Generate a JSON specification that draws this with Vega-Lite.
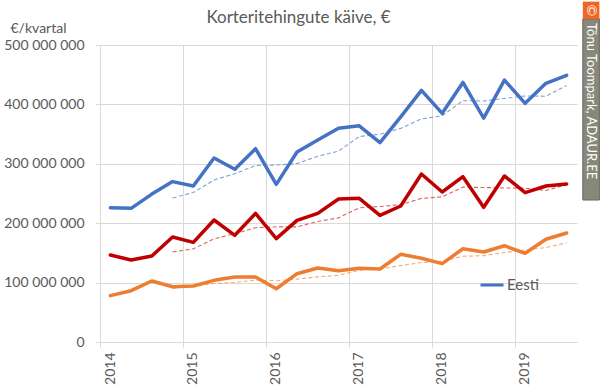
{
  "$schema": "https://vega.github.io/schema/vega-lite/v6.json",
  "width": 477,
  "height": 297,
  "autosize": {"type": "none"},
  "padding": {"left": 100, "top": 45, "right": 23, "bottom": 50},
  "background": "white",
  "title": {"text": "Korteritehingute käive, €", "anchor": "middle", "dx": -40, "offset": -25, "font": "Lato", "fontSize": 17, "fontWeight": "normal", "color": "#595959"},
  "config": {
    "locale": {"number": {"decimal": ",", "thousands": " ", "grouping": [3], "currency": ["", " €"]}},
    "view": {"stroke": null},
    "font": "Lato"
  },
  "data": {"values": [
    {"t": 2014.125, "line": "Eesti", "value": 226000000},
    {"t": 2014.375, "line": "Eesti", "value": 225000000},
    {"t": 2014.625, "line": "Eesti", "value": 249000000},
    {"t": 2014.875, "line": "Eesti", "value": 270000000},
    {"t": 2015.125, "line": "Eesti", "value": 262600000},
    {"t": 2015.375, "line": "Eesti", "value": 309800000},
    {"t": 2015.625, "line": "Eesti", "value": 290700000},
    {"t": 2015.875, "line": "Eesti", "value": 325500000},
    {"t": 2016.125, "line": "Eesti", "value": 265400000},
    {"t": 2016.375, "line": "Eesti", "value": 319900000},
    {"t": 2016.625, "line": "Eesti", "value": 340000000},
    {"t": 2016.875, "line": "Eesti", "value": 359700000},
    {"t": 2017.125, "line": "Eesti", "value": 364000000},
    {"t": 2017.375, "line": "Eesti", "value": 335600000},
    {"t": 2017.625, "line": "Eesti", "value": 379000000},
    {"t": 2017.875, "line": "Eesti", "value": 423700000},
    {"t": 2018.125, "line": "Eesti", "value": 385000000},
    {"t": 2018.375, "line": "Eesti", "value": 437000000},
    {"t": 2018.625, "line": "Eesti", "value": 377000000},
    {"t": 2018.875, "line": "Eesti", "value": 441000000},
    {"t": 2019.125, "line": "Eesti", "value": 401800000},
    {"t": 2019.375, "line": "Eesti", "value": 435500000},
    {"t": 2019.625, "line": "Eesti", "value": 449000000},
    {"t": 2014.125, "line": "Tallinn", "value": 146500000},
    {"t": 2014.375, "line": "Tallinn", "value": 138000000},
    {"t": 2014.625, "line": "Tallinn", "value": 144800000},
    {"t": 2014.875, "line": "Tallinn", "value": 176800000},
    {"t": 2015.125, "line": "Tallinn", "value": 167800000},
    {"t": 2015.375, "line": "Tallinn", "value": 205400000},
    {"t": 2015.625, "line": "Tallinn", "value": 179600000},
    {"t": 2015.875, "line": "Tallinn", "value": 216600000},
    {"t": 2016.125, "line": "Tallinn", "value": 174000000},
    {"t": 2016.375, "line": "Tallinn", "value": 204800000},
    {"t": 2016.625, "line": "Tallinn", "value": 216600000},
    {"t": 2016.875, "line": "Tallinn", "value": 240700000},
    {"t": 2017.125, "line": "Tallinn", "value": 241900000},
    {"t": 2017.375, "line": "Tallinn", "value": 213300000},
    {"t": 2017.625, "line": "Tallinn", "value": 229000000},
    {"t": 2017.875, "line": "Tallinn", "value": 282800000},
    {"t": 2018.125, "line": "Tallinn", "value": 252500000},
    {"t": 2018.375, "line": "Tallinn", "value": 278300000},
    {"t": 2018.625, "line": "Tallinn", "value": 226800000},
    {"t": 2018.875, "line": "Tallinn", "value": 279500000},
    {"t": 2019.125, "line": "Tallinn", "value": 251400000},
    {"t": 2019.375, "line": "Tallinn", "value": 262600000},
    {"t": 2019.625, "line": "Tallinn", "value": 266000000},
    {"t": 2014.125, "line": "Muu Eesti", "value": 78000000},
    {"t": 2014.375, "line": "Muu Eesti", "value": 86400000},
    {"t": 2014.625, "line": "Muu Eesti", "value": 102700000},
    {"t": 2014.875, "line": "Muu Eesti", "value": 93100000},
    {"t": 2015.125, "line": "Muu Eesti", "value": 94300000},
    {"t": 2015.375, "line": "Muu Eesti", "value": 103800000},
    {"t": 2015.625, "line": "Muu Eesti", "value": 109400000},
    {"t": 2015.875, "line": "Muu Eesti", "value": 109400000},
    {"t": 2016.125, "line": "Muu Eesti", "value": 89700000},
    {"t": 2016.375, "line": "Muu Eesti", "value": 115000000},
    {"t": 2016.625, "line": "Muu Eesti", "value": 124600000},
    {"t": 2016.875, "line": "Muu Eesti", "value": 120000000},
    {"t": 2017.125, "line": "Muu Eesti", "value": 124000000},
    {"t": 2017.375, "line": "Muu Eesti", "value": 122900000},
    {"t": 2017.625, "line": "Muu Eesti", "value": 147600000},
    {"t": 2017.875, "line": "Muu Eesti", "value": 140900000},
    {"t": 2018.125, "line": "Muu Eesti", "value": 131900000},
    {"t": 2018.375, "line": "Muu Eesti", "value": 157000000},
    {"t": 2018.625, "line": "Muu Eesti", "value": 151500000},
    {"t": 2018.875, "line": "Muu Eesti", "value": 162100000},
    {"t": 2019.125, "line": "Muu Eesti", "value": 149300000},
    {"t": 2019.375, "line": "Muu Eesti", "value": 172900000},
    {"t": 2019.625, "line": "Muu Eesti", "value": 183500000},
    {"t": 2014.875, "line": "Eesti, 4 kv keskmine", "value": 242500000},
    {"t": 2015.125, "line": "Eesti, 4 kv keskmine", "value": 251650000},
    {"t": 2015.375, "line": "Eesti, 4 kv keskmine", "value": 272850000},
    {"t": 2015.625, "line": "Eesti, 4 kv keskmine", "value": 283300000},
    {"t": 2015.875, "line": "Eesti, 4 kv keskmine", "value": 297150000},
    {"t": 2016.125, "line": "Eesti, 4 kv keskmine", "value": 297850000},
    {"t": 2016.375, "line": "Eesti, 4 kv keskmine", "value": 300400000},
    {"t": 2016.625, "line": "Eesti, 4 kv keskmine", "value": 312700000},
    {"t": 2016.875, "line": "Eesti, 4 kv keskmine", "value": 321250000},
    {"t": 2017.125, "line": "Eesti, 4 kv keskmine", "value": 345900000},
    {"t": 2017.375, "line": "Eesti, 4 kv keskmine", "value": 349800000},
    {"t": 2017.625, "line": "Eesti, 4 kv keskmine", "value": 359600000},
    {"t": 2017.875, "line": "Eesti, 4 kv keskmine", "value": 375600000},
    {"t": 2018.125, "line": "Eesti, 4 kv keskmine", "value": 380800000},
    {"t": 2018.375, "line": "Eesti, 4 kv keskmine", "value": 406200000},
    {"t": 2018.625, "line": "Eesti, 4 kv keskmine", "value": 405700000},
    {"t": 2018.875, "line": "Eesti, 4 kv keskmine", "value": 410000000},
    {"t": 2019.125, "line": "Eesti, 4 kv keskmine", "value": 414200000},
    {"t": 2019.375, "line": "Eesti, 4 kv keskmine", "value": 413800000},
    {"t": 2019.625, "line": "Eesti, 4 kv keskmine", "value": 431800000},
    {"t": 2014.875, "line": "Tallinn, 4 kv keskmine", "value": 151500000},
    {"t": 2015.125, "line": "Tallinn, 4 kv keskmine", "value": 156900000},
    {"t": 2015.375, "line": "Tallinn, 4 kv keskmine", "value": 173700000},
    {"t": 2015.625, "line": "Tallinn, 4 kv keskmine", "value": 182400000},
    {"t": 2015.875, "line": "Tallinn, 4 kv keskmine", "value": 192400000},
    {"t": 2016.125, "line": "Tallinn, 4 kv keskmine", "value": 193900000},
    {"t": 2016.375, "line": "Tallinn, 4 kv keskmine", "value": 193750000},
    {"t": 2016.625, "line": "Tallinn, 4 kv keskmine", "value": 203000000},
    {"t": 2016.875, "line": "Tallinn, 4 kv keskmine", "value": 209000000},
    {"t": 2017.125, "line": "Tallinn, 4 kv keskmine", "value": 226000000},
    {"t": 2017.375, "line": "Tallinn, 4 kv keskmine", "value": 228100000},
    {"t": 2017.625, "line": "Tallinn, 4 kv keskmine", "value": 231200000},
    {"t": 2017.875, "line": "Tallinn, 4 kv keskmine", "value": 241750000},
    {"t": 2018.125, "line": "Tallinn, 4 kv keskmine", "value": 244400000},
    {"t": 2018.375, "line": "Tallinn, 4 kv keskmine", "value": 260650000},
    {"t": 2018.625, "line": "Tallinn, 4 kv keskmine", "value": 260100000},
    {"t": 2018.875, "line": "Tallinn, 4 kv keskmine", "value": 259300000},
    {"t": 2019.125, "line": "Tallinn, 4 kv keskmine", "value": 259000000},
    {"t": 2019.375, "line": "Tallinn, 4 kv keskmine", "value": 255100000},
    {"t": 2019.625, "line": "Tallinn, 4 kv keskmine", "value": 264900000},
    {"t": 2014.875, "line": "Muu Eesti, 4 kv keskmine", "value": 90050000},
    {"t": 2015.125, "line": "Muu Eesti, 4 kv keskmine", "value": 94100000},
    {"t": 2015.375, "line": "Muu Eesti, 4 kv keskmine", "value": 98500000},
    {"t": 2015.625, "line": "Muu Eesti, 4 kv keskmine", "value": 100150000},
    {"t": 2015.875, "line": "Muu Eesti, 4 kv keskmine", "value": 104200000},
    {"t": 2016.125, "line": "Muu Eesti, 4 kv keskmine", "value": 103100000},
    {"t": 2016.375, "line": "Muu Eesti, 4 kv keskmine", "value": 105900000},
    {"t": 2016.625, "line": "Muu Eesti, 4 kv keskmine", "value": 109700000},
    {"t": 2016.875, "line": "Muu Eesti, 4 kv keskmine", "value": 112300000},
    {"t": 2017.125, "line": "Muu Eesti, 4 kv keskmine", "value": 120900000},
    {"t": 2017.375, "line": "Muu Eesti, 4 kv keskmine", "value": 122900000},
    {"t": 2017.625, "line": "Muu Eesti, 4 kv keskmine", "value": 128600000},
    {"t": 2017.875, "line": "Muu Eesti, 4 kv keskmine", "value": 133850000},
    {"t": 2018.125, "line": "Muu Eesti, 4 kv keskmine", "value": 135800000},
    {"t": 2018.375, "line": "Muu Eesti, 4 kv keskmine", "value": 144350000},
    {"t": 2018.625, "line": "Muu Eesti, 4 kv keskmine", "value": 145300000},
    {"t": 2018.875, "line": "Muu Eesti, 4 kv keskmine", "value": 150600000},
    {"t": 2019.125, "line": "Muu Eesti, 4 kv keskmine", "value": 155000000},
    {"t": 2019.375, "line": "Muu Eesti, 4 kv keskmine", "value": 158950000},
    {"t": 2019.625, "line": "Muu Eesti, 4 kv keskmine", "value": 166950000}
  ]},
  "layer": [
    {
      "transform": [{"filter": {"field": "line", "oneOf": ["Eesti, 4 kv keskmine", "Tallinn, 4 kv keskmine", "Muu Eesti, 4 kv keskmine"]}}],
      "mark": {"type": "line", "strokeWidth": 1.1, "strokeDash": [4, 2.5], "clip": false},
      "encoding": {
        "x": {
          "field": "t", "type": "quantitative",
          "scale": {"domain": [2014, 2019.75], "nice": false, "zero": false},
          "axis": {
            "title": null, "values": [2014, 2015, 2016, 2017, 2018, 2019], "format": "d",
            "grid": true, "gridColor": "#d9d9d9", "gridWidth": 1,
            "domain": true, "domainColor": "#d9d9d9", "domainWidth": 1,
            "ticks": true, "tickColor": "#d9d9d9", "tickSize": 5,
            "labelAngle": -90, "labelOffset": 10, "labelPadding": 5,
            "labelFont": "Lato", "labelFontSize": 14, "labelColor": "#595959"
          }
        },
        "y": {
          "field": "value", "type": "quantitative",
          "scale": {"domain": [0, 500000000], "nice": false},
          "axis": {
            "title": "€/kvartal", "titleAngle": 0, "titleAlign": "left", "titleBaseline": "middle",
            "titleX": -90, "titleY": -17, "titleFont": "Lato", "titleFontSize": 14, "titleFontWeight": "normal", "titleColor": "#595959",
            "values": [0, 50000000, 100000000, 150000000, 200000000, 250000000, 300000000, 350000000, 400000000, 450000000, 500000000],
            "format": ",d",
            "grid": true, "gridColor": "#d9d9d9", "gridWidth": 1,
            "domain": false, "ticks": true, "tickColor": "#d9d9d9", "tickSize": 5,
            "labelPadding": 11, "labelFont": "Lato", "labelFontSize": 14, "labelColor": "#595959"
          }
        },
        "color": {
          "field": "line", "type": "nominal",
          "scale": {
            "domain": ["Eesti", "Tallinn", "Muu Eesti", "Eesti, 4 kv keskmine", "Tallinn, 4 kv keskmine", "Muu Eesti, 4 kv keskmine"],
            "range": ["#4472C4", "#C00000", "#ED7D31", "#7F9FD8", "#E06060", "#F4AA78"]
          },
          "legend": {
            "values": ["Eesti"], "title": null, "orient": "none", "legendX": 379, "legendY": 227,
            "symbolType": "stroke", "symbolSize": 529, "symbolStrokeWidth": 3,
            "labelFont": "Lato", "labelFontSize": 15, "labelColor": "#595959", "labelOffset": 2, "padding": 0
          }
        }
      }
    },
    {
      "transform": [{"filter": {"field": "line", "oneOf": ["Eesti", "Tallinn", "Muu Eesti"]}}],
      "mark": {"type": "line", "strokeJoin": "round", "strokeCap": "round", "clip": false},
      "encoding": {
        "x": {"field": "t", "type": "quantitative"},
        "y": {"field": "value", "type": "quantitative"},
        "color": {"field": "line", "type": "nominal"},
        "strokeWidth": {
          "field": "line", "type": "nominal",
          "scale": {"domain": ["Eesti", "Tallinn", "Muu Eesti"], "range": [3.5, 3.5, 2]},
          "legend": null
        }
      }
    },
    {
      "data": {"values": [{"label": "Tõnu Toompark, ADAUR.EE", "mark": "©"}]},
      "mark": {"type": "rect", "fill": "#87877A", "stroke": "#6a6a5e", "strokeWidth": 1, "clip": false},
      "encoding": {
        "x": {"datum": 2019.82, "type": "quantitative"},
        "x2": {"datum": 2020.02},
        "y": {"datum": 239000000, "type": "quantitative"},
        "y2": {"datum": 544000000}
      }
    },
    {
      "data": {"values": [{"label": "Tõnu Toompark, ADAUR.EE", "mark": "©"}]},
      "mark": {"type": "rect", "fill": "#F26522", "clip": false},
      "encoding": {
        "x": {"datum": 2019.82, "type": "quantitative"},
        "x2": {"datum": 2020.02},
        "y": {"datum": 544000000, "type": "quantitative"},
        "y2": {"datum": 573000000}
      }
    },
    {
      "data": {"values": [{"label": "Tõnu Toompark, ADAUR.EE", "mark": "©"}]},
      "mark": {"type": "text", "color": "white", "font": "Lato", "fontSize": 14, "angle": 90, "align": "center", "baseline": "middle", "clip": false},
      "encoding": {
        "x": {"datum": 2019.92, "type": "quantitative"},
        "y": {"datum": 558500000, "type": "quantitative"},
        "text": {"field": "mark"}
      }
    },
    {
      "data": {"values": [{"label": "Tõnu Toompark, ADAUR.EE", "mark": "©"}]},
      "mark": {"type": "text", "color": "white", "font": "Lato", "fontSize": 13, "angle": 90, "align": "left", "baseline": "middle", "clip": false},
      "encoding": {
        "x": {"datum": 2019.92, "type": "quantitative"},
        "y": {"datum": 537000000, "type": "quantitative"},
        "text": {"field": "label"}
      }
    }
  ]
}
